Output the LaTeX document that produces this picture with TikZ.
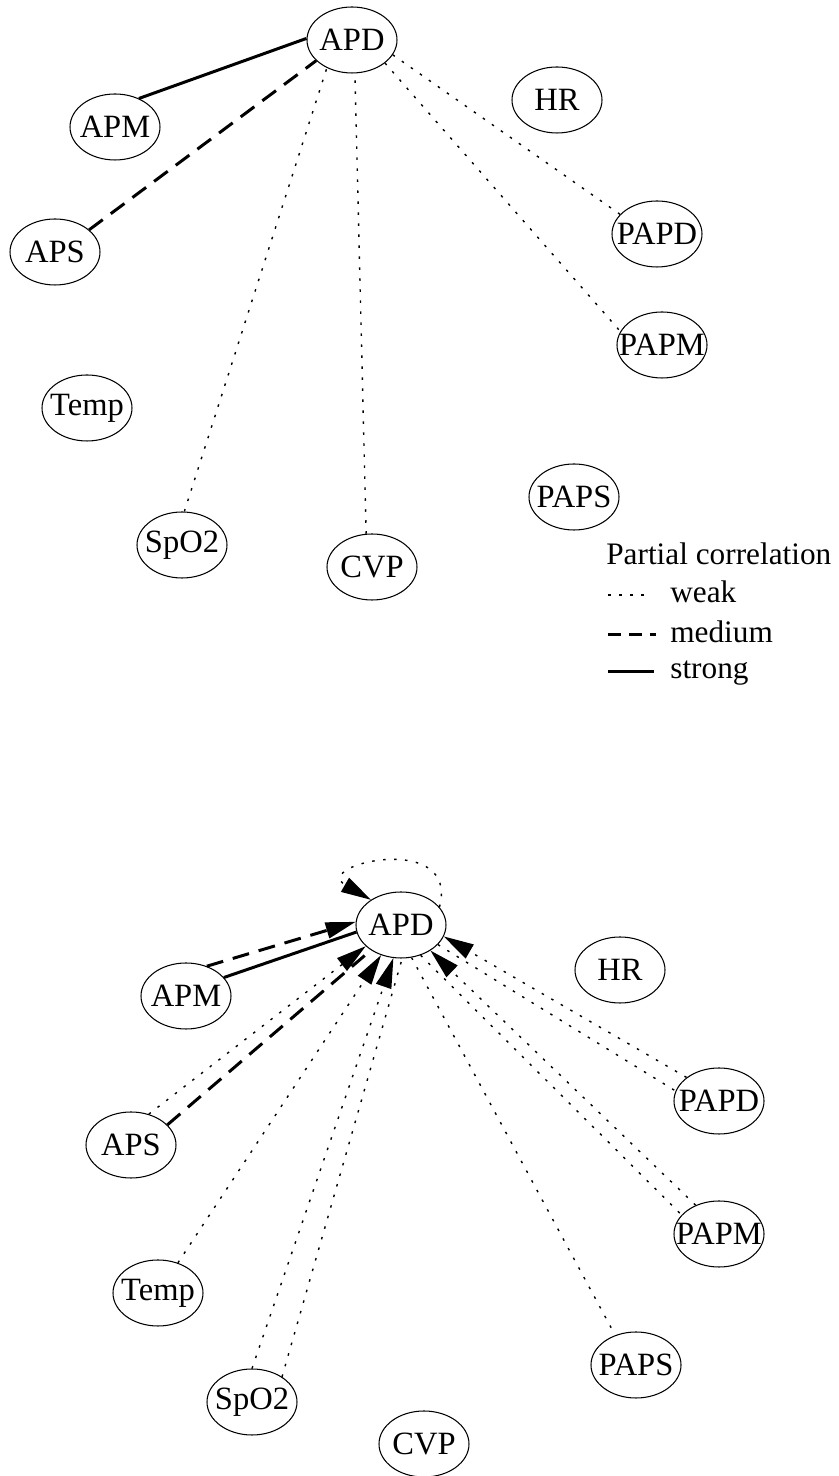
\documentclass[tikz,border=0pt]{standalone}
\usepackage{fontspec}
\setmainfont{Liberation Serif}
\usetikzlibrary{shapes.geometric,arrows.meta}
\begin{document}
\begin{tikzpicture}
    [
    font=\fontsize{18.5}{22}\selectfont,
    var/.style={ellipse,draw,line width=0.6pt,inner sep=0pt,minimum width=1.8cm,minimum height=1.32cm},
    weak/.style={line width=0.8pt,dash pattern=on 0.05cm off 0.17cm},
    medium/.style={line width=1.7pt,dash pattern=on 0.34cm off 0.2cm},
    strong/.style={line width=1.7pt},
    legtext/.style={anchor=base west,inner sep=0pt,font=\fontsize{17.8}{22}\selectfont},
    >={Triangle[length=0.6cm,width=0.32cm]}
    ]
    \useasboundingbox (0,0) rectangle (16.78,29.52);
    \node (apd) at (7.04,28.72) [var, label=center:APD] {};
    \node (hr) at (11.14,27.52) [var, label=center:HR] {};
    \node (apm) at (2.30,26.98) [var, label=center:APM] {};
    \node (aps) at (1.10,24.48) [var, label=center:APS] {};
    \node (papd) at (13.14,24.84) [var, label=center:PAPD] {};
    \node (papm) at (13.24,22.62) [var, label=center:PAPM] {};
    \node (temp) at (1.74,21.36) [var, label=center:Temp] {};
    \node (paps) at (11.48,19.58) [var, label=center:PAPS] {};
    \node (spo2) at (3.64,18.62) [var, label=center:SpO2] {};
    \node (cvp) at (7.44,18.18) [var, label=center:CVP] {};
    \draw [strong] (apm.50) to (apd.178);
    \draw [medium] (aps.33) to (apd.210);
    \draw [weak] (spo2.86) to (apd.228);
    \draw [weak] (cvp.100) to (apd.275);
    \draw [weak] (apd.340) to (papd.152);
    \draw [weak] (apd.325) to (papm.162);
    \node (ltitle) at (12.12,18.22) [legtext] {Partial correlation};
    \coordinate (w1) at (12.16,17.62);
    \coordinate (w2) at (12.90,17.62);
    \coordinate (m1) at (12.16,16.82);
    \coordinate (m2) at (13.12,16.82);
    \coordinate (s1) at (12.16,16.08);
    \coordinate (s2) at (13.08,16.08);
    \draw [weak] (w1) -- (w2);
    \draw [medium,dash pattern=on 0.26cm off 0.16cm] (m1) -- (m2);
    \draw [strong] (s1) -- (s2);
    \node (lweak) at (13.40,17.46) [legtext] {weak};
    \node (lmedium) at (13.40,16.66) [legtext] {medium};
    \node (lstrong) at (13.40,15.94) [legtext] {strong};
    \node (apd2) at (8.02,11.02) [var, label=center:APD] {};
    \node (hr2) at (12.40,10.12) [var, label=center:HR] {};
    \node (apm2) at (3.72,9.60) [var, label=center:APM] {};
    \node (aps2) at (2.62,6.62) [var, label=center:APS] {};
    \node (papd2) at (14.38,7.50) [var, label=center:PAPD] {};
    \node (papm2) at (14.38,4.84) [var, label=center:PAPM] {};
    \node (temp2) at (3.16,3.66) [var, label=center:Temp] {};
    \node (paps2) at (12.72,2.22) [var, label=center:PAPS] {};
    \node (spo22) at (5.04,1.48) [var, label=center:SpO2] {};
    \node (cvp2) at (8.48,0.64) [var, label=center:CVP] {};
    \draw [weak,->] (apd2.25) .. controls +(75:1.6) and +(150:1.4) .. (apd2.140);
    \draw [medium,->] (apm2.55) to (apd2.176);
    \draw [strong] (apm2.26) to (apd2.189);
    \draw [weak,->] (aps2.60) to (apd2.211);
    \draw [medium] (aps2.29) to (apd2.220);
    \draw [weak,->] (temp2) to (apd2);
    \draw [weak,->] (spo22.90) to (apd2.257);
    \draw [weak] (spo22.40) to (apd2.272);
    \draw [weak] (apd2.288) to (paps2.125);
    \draw [weak] (apd2.303) to (papm2.153);
    \draw [weak,->] (papm2.129) to (apd2.319);
    \draw [weak] (apd2.332) to (papd2.167);
    \draw [weak,->] (papd2.144) to (apd2.345);
\end{tikzpicture}
\end{document}
